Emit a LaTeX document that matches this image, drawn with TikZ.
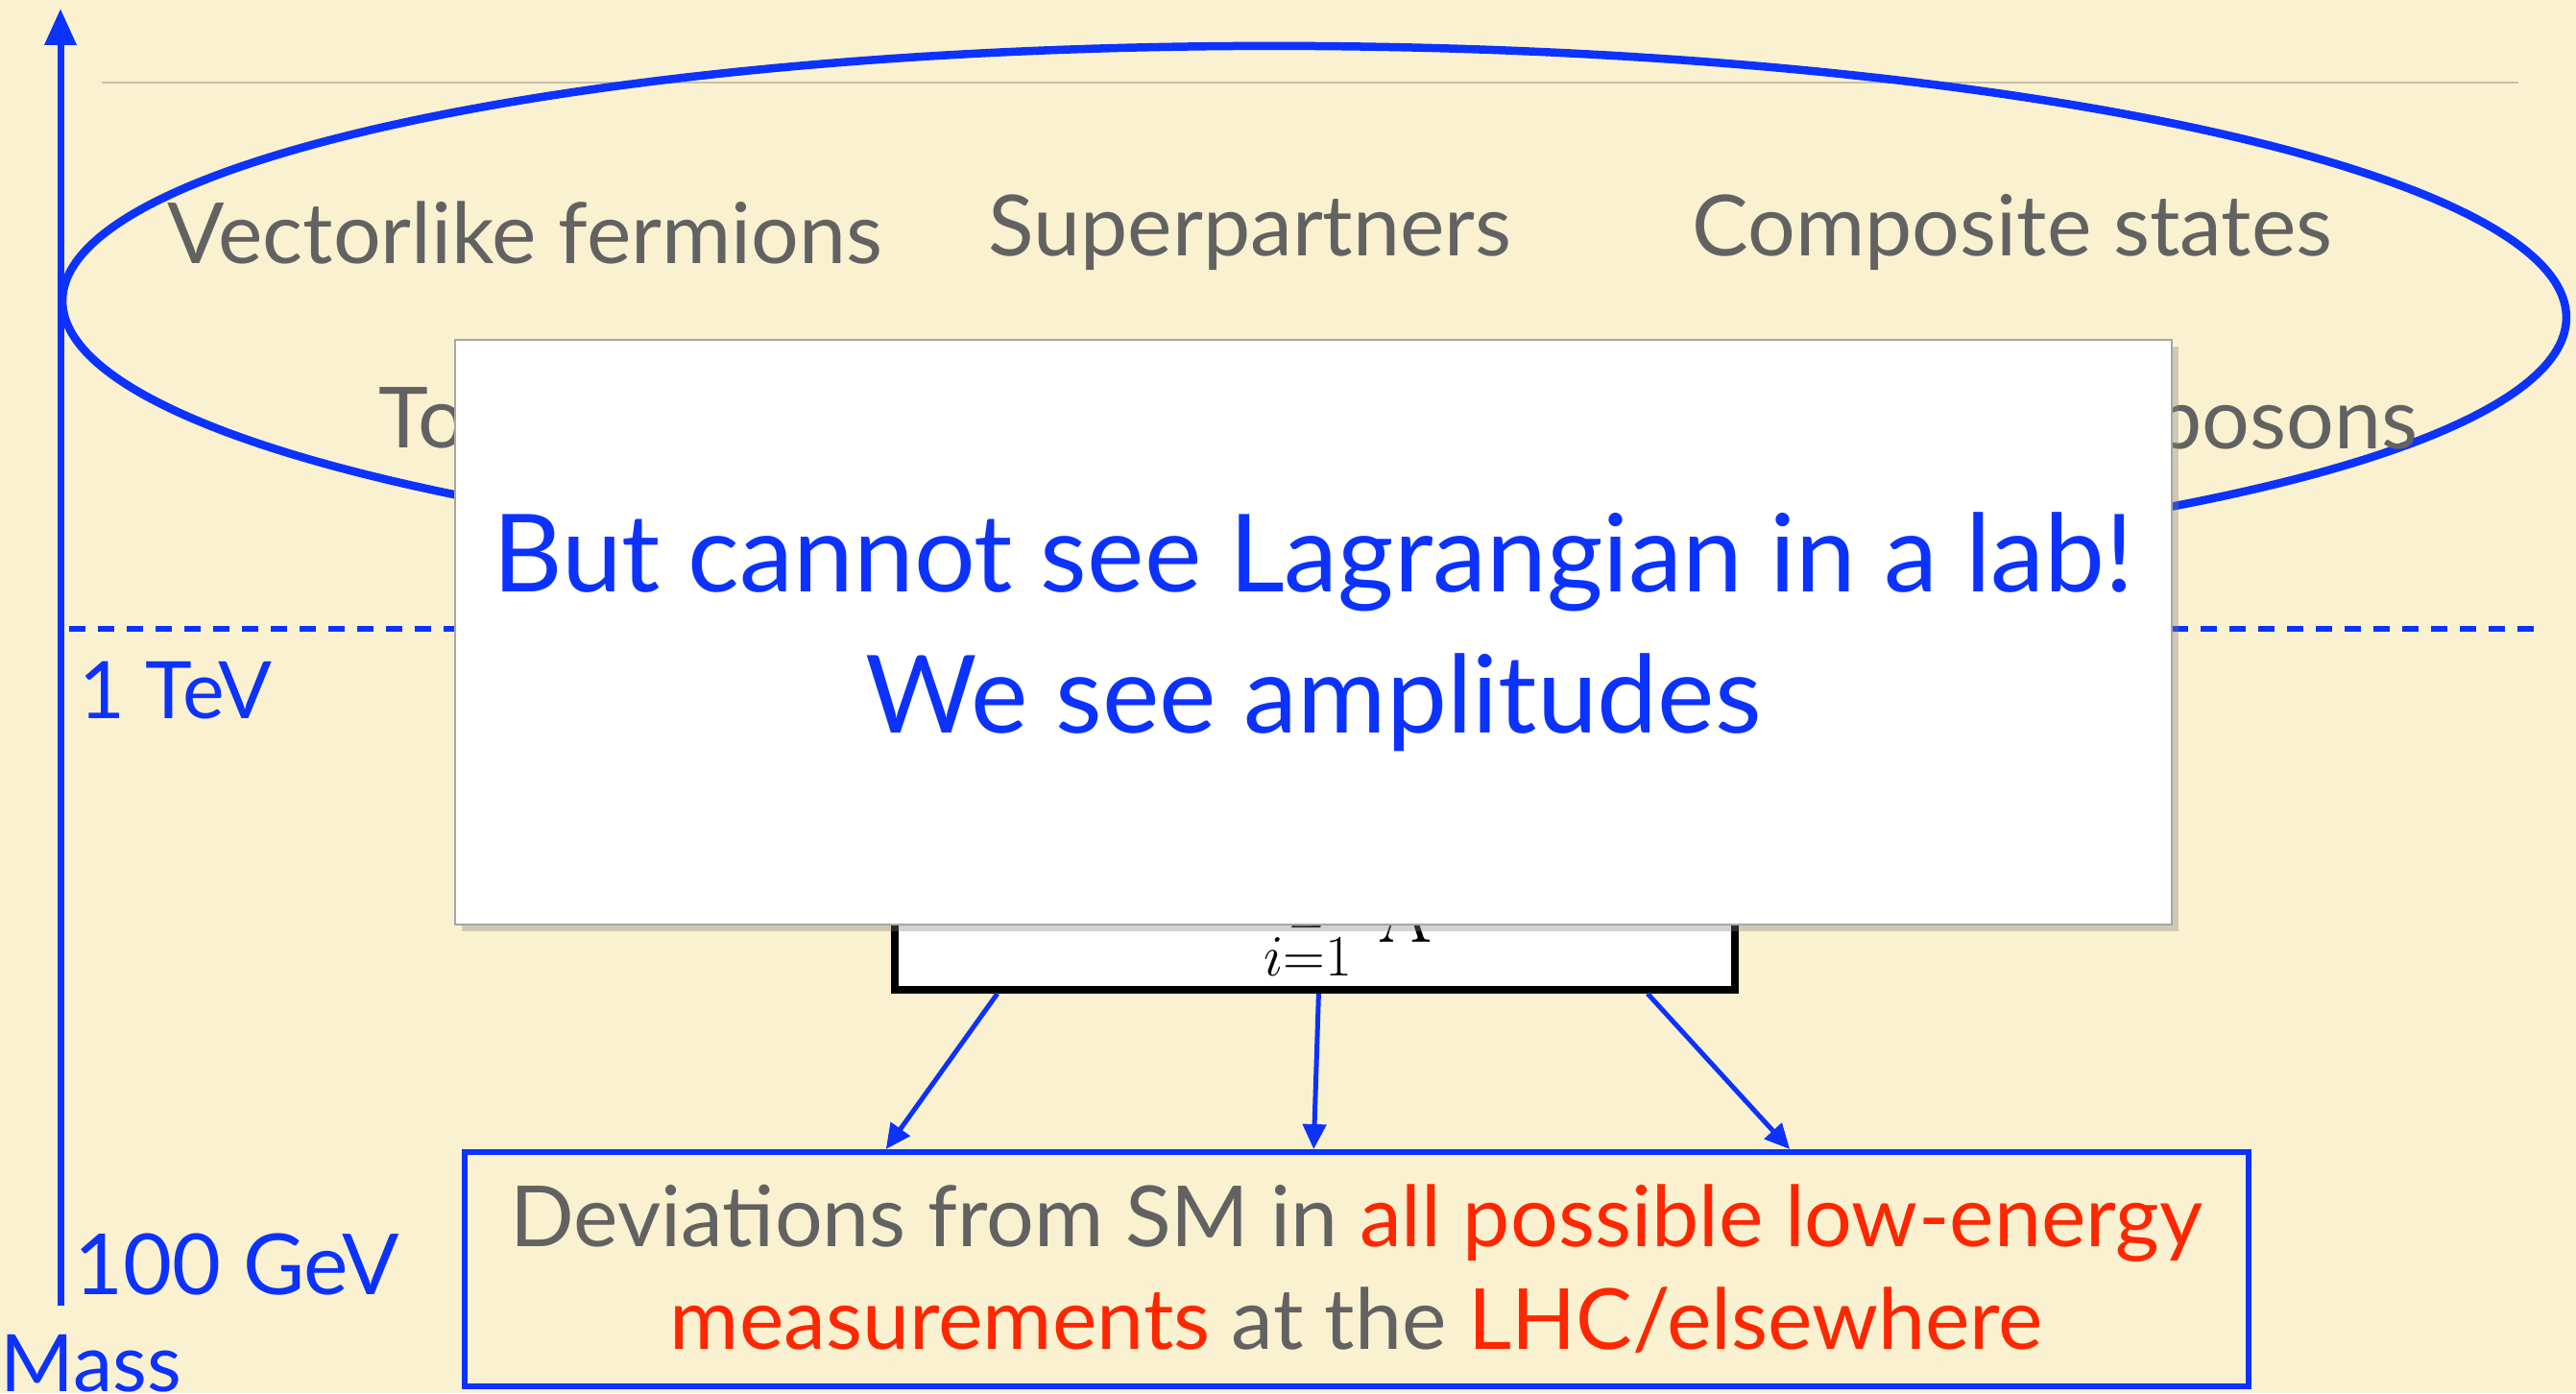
\documentclass[tikz,border=0pt]{standalone}
\usepackage[no-math]{fontspec}
\setmainfont{Lato}
\usetikzlibrary{arrows.meta,positioning,calc,shadows}
\definecolor{paper}{RGB}{250,241,208}
\definecolor{markblue}{RGB}{12,50,255}
\definecolor{textgray}{RGB}{98,98,98}
\definecolor{hotred}{RGB}{255,38,0}
\definecolor{rulegray}{RGB}{200,190,170}

\begin{document}
\begin{tikzpicture}[>={Triangle[length=0.26cm,width=0.24cm]},font=\fontsize{25}{30}\selectfont,
  scalelab/.style={text=markblue,inner sep=0pt,anchor=west,font=\fontsize{23.5}{28}\selectfont},
  bsm/.style={text=textgray,inner sep=0pt},
  lagbox/.style={draw=black,line width=0.08cm,fill=white,minimum width=8.75cm,minimum height=2.6cm,anchor=south},
  formula/.style={inner sep=0pt,font=\fontsize{26}{30}\selectfont},
  notebox/.style={draw=gray!70,line width=0.02cm,fill=white,minimum width=17.88cm,minimum height=6.09cm,
    align=center,text=markblue,font=\fontsize{32}{41.8}\selectfont,
    drop shadow={shadow xshift=0.07cm,shadow yshift=-0.07cm,opacity=0.35}},
  devbox/.style={draw=markblue,line width=0.06cm,minimum width=18.58cm,minimum height=2.44cm,align=center,
    font=\fontsize{25}{30.4}\selectfont},
  flow/.style={->,markblue,line width=0.05cm}]
\useasboundingbox (0,0) rectangle (26.83,14.51);
\fill[paper] (0,0) rectangle (26.83,14.51);

% mass axis
\coordinate (ax0) at (0.63,0.91);
\coordinate (ax1) at (0.63,14.42);
\draw[markblue,line width=0.07cm,-{Triangle[length=0.38cm,width=0.32cm]}] (ax0) -- (ax1);
\draw[rulegray,line width=0.02cm] (1.06,13.65) -- (26.23,13.65);

% new physics states
\draw[markblue,line width=0.085cm,rotate around={-0.4:(13.69,11.29)}] (13.69,11.29) ellipse [x radius=13.04,y radius=2.74];
\foreach \x/\t/\n in {5.47/{Vectorlike fermions}/vlf,13.02/Superpartners/susy,20.96/{Composite states}/comp}
  \node[bsm] (\n) at (\x,12.09) {\t};
\node[bsm,anchor=west] (top) at (3.94,10.08) {Top partners};
\node[bsm,anchor=east] (gauge) at (25.19,10.08) {New gauge bosons};

% TeV line
\draw[markblue,line width=0.06cm,dash pattern=on 0.17cm off 0.13cm] (0.72,7.96) -- (26.52,7.96);
\node[scalelab] (tev) at (0.82,7.32) {1 TeV};
\node[scalelab,font=\fontsize{25}{30}\selectfont] (gev) at (0.77,1.34) {100 GeV};
\node[scalelab] (mass) at (0.0,0.31) {Mass};

% effective Lagrangian
\node[lagbox] (lag) at (13.69,4.16) {};
\node[formula,anchor=south] (lagsum) at (13.62,4.30) {$\sum\limits_{i=1}^{N}$};
\node[formula,anchor=base east] (lagleft) at (13.05,5.25) {$\displaystyle\mathcal{L}=\mathcal{L}_{\rm SM}+$};
\node[formula,anchor=south west] (lagterm) at (14.31,4.69) {$\displaystyle\frac{c_i}{\Lambda^{2}}\,\mathcal{O}_i$};

\node[devbox] (dev) at (14.13,1.29) {\textcolor{textgray}{Deviations from SM in} \textcolor{hotred}{all possible low-energy}\\
  \textcolor{hotred}{measurements} \textcolor{textgray}{at the} \textcolor{hotred}{LHC/elsewhere}};
\foreach \f/\t in {0.126/0.237,0.505/0.476,0.893/0.742}
  \draw[flow] ($(lag.south west)!\f!(lag.south east)$) -- ($(dev.north west)!\t!(dev.north east)$);

\node[notebox] (note) at (13.68,7.925) {But cannot see Lagrangian in a lab!\\We see amplitudes};
\end{tikzpicture}
\end{document}
